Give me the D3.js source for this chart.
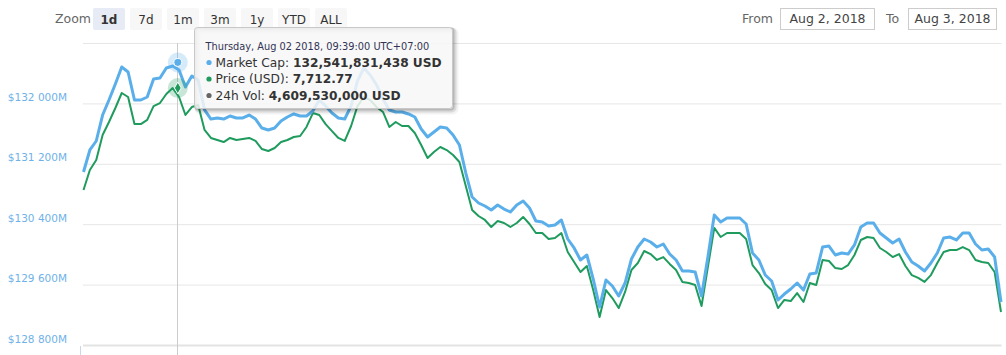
<!DOCTYPE html>
<html>
<head>
<meta charset="utf-8">
<script src="https://cdn.jsdelivr.net/npm/d3@7"></script>
<style>
  html, body { margin: 0; padding: 0; background: #fff; }
  svg { display: block; font-family: "DejaVu Sans", sans-serif; }
</style>
</head>
<body>
<svg id="chart" width="1006" height="355"></svg>
<script>
// ---------- data ----------
const startTime = "2018-08-02T07:11:00+07:00";
const stepMinutes = 10;
const marketCapM = [
  131091,131383,131502,131846,132045,132257,132482,132416,132045,132045,
  132085,132323,132336,132469,132495,132442,132217,132363,132310,131913,
  131793,131807,131793,131833,131807,131807,131846,131793,131674,131648,
  131674,131767,131820,131860,131833,131833,131899,132045,131966,131873,
  131807,131793,131966,132297,132469,132376,132244,132058,131913,131886,
  131886,131860,131820,131661,131555,131621,131687,131674,131581,131449,
  131078,130760,130681,130641,130588,130654,130601,130562,130654,130707,
  130615,130442,130429,130376,130389,130456,130204,130085,129926,129992,
  129674,129303,129661,129581,129449,129621,129939,130098,130204,130164,
  130098,130138,130005,129926,129780,129780,129767,129449,129966,130522,
  130429,130482,130482,130482,130403,130019,129926,129727,129648,129396,
  129475,129542,129621,129528,129740,129754,130098,130111,129992,130019,
  130005,130125,130363,130416,130416,130283,130217,130151,130204,130032,
  129899,129846,129780,129886,130019,130217,130230,130191,130283,130283,
  130138,130058,130072,129966,129370
];
const priceUSD = [
  7628.3,7644.9,7653.1,7673.8,7684.6,7696.2,7708.6,7705.3,7682.9,7682.9,
  7686.3,7697.8,7700.3,7707.8,7712.7,7705.3,7690.4,7697.0,7698.7,7678.0,
  7671.4,7669.7,7668.0,7671.4,7669.7,7670.5,7671.4,7668.9,7662.2,7660.6,
  7663.1,7668.0,7669.7,7672.2,7673.0,7680.5,7692.0,7690.4,7682.9,7677.1,
  7671.4,7668.9,7681.3,7697.8,7705.3,7702.8,7697.0,7692.9,7680.5,7684.6,
  7681.3,7681.3,7675.5,7665.6,7654.8,7659.8,7663.9,7661.4,7657.3,7651.5,
  7631.6,7611.8,7606.8,7603.5,7597.7,7602.6,7601.0,7597.7,7601.0,7606.0,
  7600.2,7592.7,7592.7,7587.7,7588.6,7592.7,7577.0,7568.7,7560.4,7565.4,
  7545.5,7523.2,7545.5,7538.9,7530.6,7543.9,7562.1,7567.9,7577.8,7575.3,
  7570.4,7572.8,7567.1,7562.1,7552.2,7551.3,7549.7,7532.3,7564.6,7596.9,
  7589.4,7592.7,7592.7,7592.7,7587.7,7566.2,7559.6,7550.5,7545.5,7530.6,
  7537.3,7536.4,7543.0,7535.6,7551.3,7549.7,7570.4,7569.5,7563.7,7562.9,
  7566.2,7574.5,7586.9,7589.4,7588.6,7580.3,7577.0,7572.8,7575.3,7565.4,
  7557.9,7555.5,7552.2,7557.9,7567.9,7577.0,7578.6,7578.6,7581.1,7578.6,
  7570.4,7568.7,7567.9,7560.4,7527.3
];
const yTicks = [128800, 129600, 130400, 131200, 132000, 132800];
const yDomain = [128800, 132800];
const priceDomain = [7500, 7750];
const zoomButtons = ["1d", "7d", "1m", "3m", "1y", "YTD", "ALL"];
const selectedZoom = "1d";
const fromDate = "Aug 2, 2018";
const toDate = "Aug 3, 2018";
// hovered point
const hoverTime = "2018-08-02T09:39:00+07:00";
const hoverHeader = "Thursday, Aug 02 2018, 09:39:00 UTC+07:00";
const hoverMarketCap = 132541831438;
const hoverPrice = 7712.77;
const hoverVolume = 4609530000;

// ---------- setup ----------
const W = 1006, H = 355;
const plot = { left: 83.5, right: 1001, top: 43, bottom: 345 };
const blue = "#5aafea", green = "#1f9b5e", volGray = "#666";

const t0 = new Date(startTime);
const times = marketCapM.map((_, i) => new Date(t0.getTime() + i * stepMinutes * 60000));
const series = times.map((t, i) => ({ t, m: marketCapM[i], p: priceUSD[i] }));

const x = d3.scaleTime().domain(d3.extent(times)).range([plot.left, plot.right]);
const y = d3.scaleLinear().domain(yDomain).range([plot.bottom, plot.top]);
const yP = d3.scaleLinear().domain(priceDomain).range([plot.bottom, plot.top]);

const svg = d3.select("#chart");

// grid lines via axis
const gAxis = svg.append("g").attr("transform", `translate(${plot.left - 0.5},0)`);
const axis = d3.axisLeft(y).tickValues(yTicks).tickSize(-(plot.right + 1 - plot.left)).tickFormat("");
gAxis.call(axis);
gAxis.select(".domain").remove();
gAxis.selectAll(".tick line").attr("stroke", "#e6e6e6").attr("stroke-width", 1);
gAxis.selectAll(".tick").filter(d => d === yDomain[0]).select("line").attr("stroke-width", 2).attr("stroke", "#e3e3e3");

// y labels (last label hidden, as in reference)
const fmt = v => "$" + d3.format(",")(v).replace(",", " ") + "M";
svg.append("g").selectAll("text")
  .data(yTicks.filter(v => v !== yDomain[1]))
  .join("text")
  .attr("x", 67).attr("y", d => y(d) - 2.5)
  .attr("text-anchor", "end")
  .attr("fill", "#6fb2e8")
  .attr("font-size", 10.5)
  .text(fmt);

// small tick at bottom-left
svg.append("line").attr("x1", 80.5).attr("x2", 80.5).attr("y1", 346).attr("y2", 355)
  .attr("stroke", "#ccd6eb").attr("stroke-width", 1);

// crosshair
const hx = x(new Date(hoverTime));
svg.append("line").attr("x1", Math.round(hx) - 0.5).attr("x2", Math.round(hx) - 0.5)
  .attr("y1", plot.top).attr("y2", H)
  .attr("stroke", "#cccccc").attr("stroke-width", 1);

// lines
const clip = svg.append("clipPath").attr("id", "clip").append("rect")
  .attr("x", plot.left - 2).attr("y", plot.top - 10).attr("width", plot.right - plot.left + 4).attr("height", plot.bottom - plot.top + 10);
const lineM = d3.line().x(d => x(d.t)).y(d => y(d.m));
const lineP = d3.line().x(d => x(d.t)).y(d => yP(d.p));
svg.append("path").datum(series).attr("d", lineP).attr("fill", "none")
  .attr("stroke", green).attr("stroke-width", 2).attr("stroke-linejoin", "round").attr("clip-path", "url(#clip)");
svg.append("path").datum(series).attr("d", lineM).attr("fill", "none")
  .attr("stroke", blue).attr("stroke-width", 3).attr("stroke-linejoin", "round").attr("clip-path", "url(#clip)");

// hover markers
const hmY = y(hoverMarketCap / 1e6), hpY = yP(hoverPrice);
svg.append("circle").attr("cx", hx).attr("cy", hmY).attr("r", 10).attr("fill", blue).attr("fill-opacity", 0.25);
svg.append("circle").attr("cx", hx).attr("cy", hmY).attr("r", 4).attr("fill", blue).attr("stroke", "#fff").attr("stroke-width", 1);
svg.append("circle").attr("cx", hx).attr("cy", hpY).attr("r", 10).attr("fill", green).attr("fill-opacity", 0.25);
svg.append("path").attr("d", d3.symbol(d3.symbolDiamond, 40)()).attr("transform", `translate(${hx},${hpY})`)
  .attr("fill", green).attr("stroke", "#fff").attr("stroke-width", 1);

// range selector
svg.append("text").attr("x", 55).attr("y", 23).attr("fill", "#666").attr("font-size", 12.5).text("Zoom");
const bg = svg.append("g").selectAll("g").data(zoomButtons).join("g")
  .attr("transform", (d, i) => `translate(${93 + i * 37},8)`);
bg.append("rect").attr("width", 32).attr("height", 22).attr("rx", 2)
  .attr("fill", d => d === selectedZoom ? "#e6ebf5" : "#f7f7f7");
bg.append("text").attr("x", 16).attr("y", 15.5).attr("text-anchor", "middle")
  .attr("font-size", 12).attr("fill", "#333")
  .attr("font-weight", d => d === selectedZoom ? "bold" : "normal").text(d => d);

// date inputs
svg.append("text").attr("x", 773).attr("y", 23).attr("text-anchor", "end").attr("fill", "#666").attr("font-size", 12.5).text("From");
svg.append("rect").attr("x", 780.5).attr("y", 8.5).attr("width", 94).attr("height", 21).attr("fill", "#fff").attr("stroke", "#cccccc");
svg.append("text").attr("x", 827.5).attr("y", 23).attr("text-anchor", "middle").attr("fill", "#444").attr("font-size", 12.5).text(fromDate);
svg.append("text").attr("x", 886).attr("y", 23).attr("fill", "#666").attr("font-size", 12.5).text("To");
svg.append("rect").attr("x", 908.5).attr("y", 8.5).attr("width", 88).attr("height", 21).attr("fill", "#fff").attr("stroke", "#cccccc");
svg.append("text").attr("x", 952.5).attr("y", 23).attr("text-anchor", "middle").attr("fill", "#444").attr("font-size", 12.5).text(toDate);

// tooltip
const tt = svg.append("g").attr("transform", "translate(194.5,27.5)");
const tw = 258, th = 81;
[3, 2, 1].forEach((o, k) => {
  tt.append("rect").attr("x", o).attr("y", o).attr("width", tw).attr("height", th).attr("rx", 3)
    .attr("fill", "none").attr("stroke", "#000").attr("stroke-opacity", 0.05 * (k + 1)).attr("stroke-width", 2 * (3 - k));
});
tt.append("rect").attr("width", tw).attr("height", th).attr("rx", 3)
  .attr("fill", "rgba(247,247,247,0.85)").attr("stroke", "#c8c8c8").attr("stroke-width", 1);
tt.append("text").attr("x", 11).attr("y", 22).attr("font-size", 9.8).attr("fill", "#333355").text(hoverHeader);
const rows = [
  { c: blue, label: "Market Cap: ", val: d3.format(",")(hoverMarketCap) + " USD" },
  { c: green, label: "Price (USD): ", val: d3.format(",.2f")(hoverPrice) },
  { c: volGray, label: "24h Vol: ", val: d3.format(",")(hoverVolume) + " USD" }
];
rows.forEach((r, i) => {
  const yy = 39 + i * 16.5;
  tt.append("circle").attr("cx", 14.5).attr("cy", yy - 4).attr("r", 2.6).attr("fill", r.c);
  const t = tt.append("text").attr("x", 21).attr("y", yy).attr("font-size", 12.2).attr("fill", "#333");
  t.append("tspan").text(r.label);
  t.append("tspan").attr("font-weight", "bold").text(r.val);
});
</script>
</body>
</html>
